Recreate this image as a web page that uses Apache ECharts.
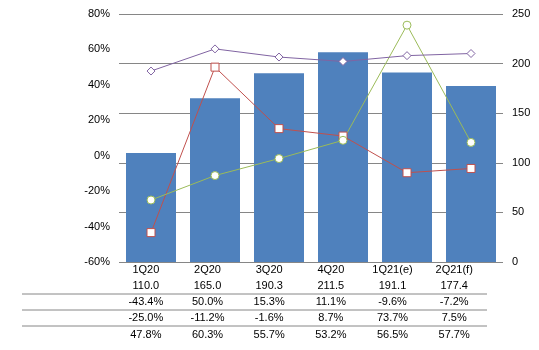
<!DOCTYPE html>
<html>
<head>
<meta charset="utf-8">
<script src="https://cdn.jsdelivr.net/npm/echarts@6/dist/echarts.min.js"></script>
<style>
  html, body { margin: 0; padding: 0; background: #fff; }
  #chart { width: 539px; height: 350px; }
</style>
</head>
<body>
<div id="chart"></div>
<script>
const quarters = ['1Q20', '2Q20', '3Q20', '4Q20', '1Q21(e)', '2Q21(f)'];
const shipments = [110.0, 165.0, 190.3, 211.5, 191.1, 177.4];
const qoq = [-43.4, 50.0, 15.3, 11.1, -9.6, -7.2];
const yoy = [-25.0, -11.2, -1.6, 8.7, 73.7, 7.5];
const globalShare = [47.8, 60.3, 55.7, 53.2, 56.5, 57.7];

const seriesNames = ['Shipments', 'Q/Q', 'Y/Y', 'Global share'];

const chart = echarts.init(document.getElementById('chart'));

const font = 'Liberation Sans, Arial, sans-serif';
const txt = { color: '#000', fontFamily: font, fontSize: 11 };
const off = () => ({ show: false });

const pct = v => v.toFixed(1) + '%';

// data table under the plot
const tableRows = [
  quarters,
  shipments.map(v => v.toFixed(1)),
  qoq.map(pct),
  yoy.map(pct),
  globalShare.map(pct)
];
const rowY = [270, 285.5, 302, 318, 334.5];
const tableLeft = 115, tableWidth = 370;
const colW = tableWidth / quarters.length;

const tableTexts = [];
tableRows.forEach((row, r) => {
  row.forEach((s, c) => {
    tableTexts.push({
      type: 'text',
      x: tableLeft + colW * (c + 0.5),
      y: rowY[r],
      silent: true,
      style: {
        text: s,
        fill: '#000',
        fontSize: 11,
        fontFamily: font,
        align: 'center',
        verticalAlign: 'middle'
      }
    });
  });
});

const separators = [294, 310, 326].map(y => ({
  type: 'line',
  shape: { x1: 22, y1: y, x2: 487, y2: y },
  style: { stroke: '#868686', lineWidth: 1 },
  silent: true
}));

const option = {
  animation: false,
  grid: { left: 119, right: 36, top: 14, bottom: 88, outerBoundsMode: 'none' },
  xAxis: {
    type: 'category',
    data: quarters,
    axisLine: off(),
    axisTick: off(),
    splitLine: off(),
    axisLabel: { show: false }
  },
  yAxis: [
    {
      type: 'value',
      min: -60,
      max: 80,
      interval: 20,
      axisLine: off(),
      axisTick: off(),
      splitLine: off(),
      axisLabel: Object.assign({ margin: 9, formatter: '{value}%' }, txt)
    },
    {
      type: 'value',
      min: 0,
      max: 250,
      interval: 50,
      axisLine: off(),
      axisTick: off(),
      splitLine: { show: true, lineStyle: { color: '#868686', width: 1 } },
      axisLabel: Object.assign({ margin: 9 }, txt)
    }
  ],
  graphic: separators.concat(tableTexts),
  series: [
    {
      name: 'Shipments',
      type: 'bar',
      yAxisIndex: 1,
      barWidth: 50,
      itemStyle: { color: '#4F81BD' },
      data: shipments
    },
    {
      name: 'Q/Q',
      type: 'line',
      yAxisIndex: 0,
      symbol: 'rect',
      symbolSize: 8,
      lineStyle: { color: '#C0504D', width: 1 },
      itemStyle: { color: '#fff', borderColor: '#C0504D', borderWidth: 1 },
      data: qoq
    },
    {
      name: 'Y/Y',
      type: 'line',
      yAxisIndex: 0,
      symbol: 'circle',
      symbolSize: 8,
      lineStyle: { color: '#9BBB59', width: 1 },
      itemStyle: { color: '#fff', borderColor: '#9BBB59', borderWidth: 1 },
      data: yoy
    },
    {
      name: 'Global share',
      type: 'line',
      yAxisIndex: 0,
      symbol: 'diamond',
      symbolSize: 8,
      lineStyle: { color: '#8064A2', width: 1 },
      itemStyle: { color: '#fff', borderColor: '#8064A2', borderWidth: 1 },
      data: globalShare
    }
  ]
};

chart.setOption(option);
window.addEventListener('resize', () => chart.resize());
</script>
</body>
</html>
